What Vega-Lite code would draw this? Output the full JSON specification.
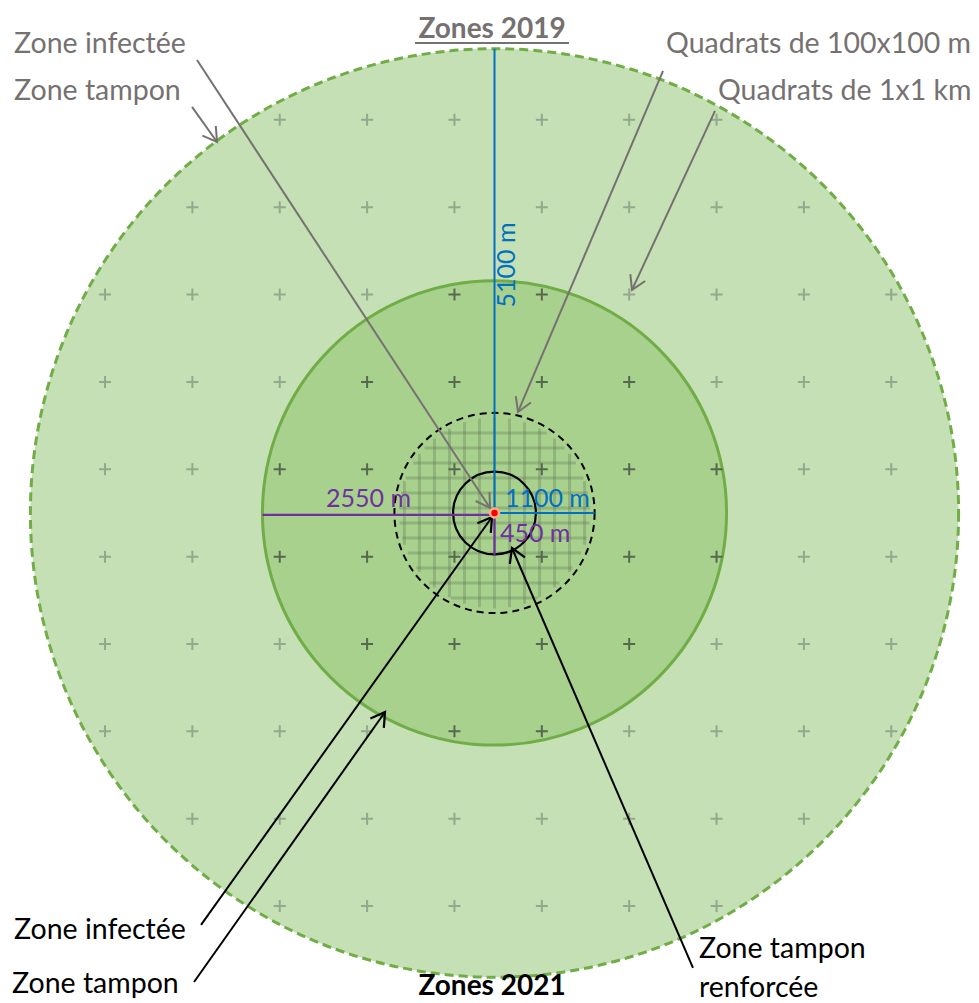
{
  "$schema": "https://vega.github.io/schema/vega-lite/v6.json",
  "width": 979,
  "height": 1003,
  "autosize": "none",
  "padding": 0,
  "background": "white",
  "config": {"view": {"stroke": null}},
  "encoding": {
    "x": {"field": "x", "type": "quantitative", "scale": {"domain": [-5434, 5324], "nice": false, "zero": false}, "axis": null},
    "y": {"field": "y", "type": "quantitative", "scale": {"domain": [-5385, 5637], "nice": false, "zero": false}, "axis": null}
  },
  "layer": [
    {
      "data": {"values": [{"x": 0, "y": 0, "r": 5100}]},
      "mark": {"type": "point", "shape": "circle", "filled": true, "fill": "#c5e0b4", "stroke": "#70ad47", "strokeWidth": 3, "strokeDash": [9, 5], "opacity": 1, "fillOpacity": 1},
      "encoding": {"size": {"field": "r", "type": "quantitative", "scale": {"type": "pow", "exponent": 2, "domain": [0, 5100], "range": [0, 861555]}, "legend": null}}
    },
    {
      "data": {"values": [{"x": 0, "y": 0, "r": 2550}]},
      "mark": {"type": "point", "shape": "circle", "filled": true, "fill": "#a9d18e", "stroke": "#70ad47", "strokeWidth": 3, "opacity": 1, "fillOpacity": 1},
      "encoding": {"size": {"field": "r", "type": "quantitative", "scale": {"type": "pow", "exponent": 2, "domain": [0, 5100], "range": [0, 861555]}, "legend": null}}
    },
    {
      "data": {"values": [
        {"x": -2360, "y": 4320}, {"x": -1400, "y": 4320}, {"x": -440, "y": 4320}, {"x": 520, "y": 4320}, {"x": 1480, "y": 4320}, {"x": 2440, "y": 4320},
        {"x": -2360, "y": -4320}, {"x": -1400, "y": -4320}, {"x": -440, "y": -4320}, {"x": 520, "y": -4320}, {"x": 1480, "y": -4320}, {"x": 2440, "y": -4320},
        {"x": -3320, "y": 3360}, {"x": -2360, "y": 3360}, {"x": -1400, "y": 3360}, {"x": -440, "y": 3360}, {"x": 520, "y": 3360}, {"x": 1480, "y": 3360}, {"x": 2440, "y": 3360}, {"x": 3400, "y": 3360},
        {"x": -3320, "y": -3360}, {"x": -2360, "y": -3360}, {"x": -1400, "y": -3360}, {"x": -440, "y": -3360}, {"x": 520, "y": -3360}, {"x": 1480, "y": -3360}, {"x": 2440, "y": -3360}, {"x": 3400, "y": -3360},
        {"x": -4280, "y": 2400}, {"x": -3320, "y": 2400}, {"x": -2360, "y": 2400}, {"x": -1400, "y": 2400}, {"x": 1480, "y": 2400}, {"x": 2440, "y": 2400}, {"x": 3400, "y": 2400}, {"x": 4360, "y": 2400},
        {"x": -4280, "y": -2400}, {"x": -3320, "y": -2400}, {"x": -2360, "y": -2400}, {"x": -1400, "y": -2400}, {"x": 1480, "y": -2400}, {"x": 2440, "y": -2400}, {"x": 3400, "y": -2400}, {"x": 4360, "y": -2400},
        {"x": -4280, "y": 1440}, {"x": -3320, "y": 1440}, {"x": -2360, "y": 1440}, {"x": 2440, "y": 1440}, {"x": 3400, "y": 1440}, {"x": 4360, "y": 1440},
        {"x": -4280, "y": -1440}, {"x": -3320, "y": -1440}, {"x": -2360, "y": -1440}, {"x": 2440, "y": -1440}, {"x": 3400, "y": -1440}, {"x": 4360, "y": -1440},
        {"x": -4280, "y": 480}, {"x": -3320, "y": 480}, {"x": 3400, "y": 480}, {"x": 4360, "y": 480},
        {"x": -4280, "y": -480}, {"x": -3320, "y": -480}, {"x": 3400, "y": -480}, {"x": 4360, "y": -480}
      ]},
      "mark": {"type": "point", "shape": "M -1 0 L 1 0 M 0 -1 L 0 1", "filled": false, "color": "#93a88c", "strokeWidth": 2, "size": 144, "opacity": 1}
    },
    {
      "data": {"values": [
        {"x": -440, "y": 2400}, {"x": 520, "y": 2400}, {"x": -440, "y": -2400}, {"x": 520, "y": -2400},
        {"x": -1400, "y": 1440}, {"x": -440, "y": 1440}, {"x": 520, "y": 1440}, {"x": 1480, "y": 1440},
        {"x": -1400, "y": -1440}, {"x": -440, "y": -1440}, {"x": 520, "y": -1440}, {"x": 1480, "y": -1440},
        {"x": -2360, "y": 480}, {"x": -1400, "y": 480}, {"x": -440, "y": 480}, {"x": 520, "y": 480}, {"x": 1480, "y": 480}, {"x": 2440, "y": 480},
        {"x": -2360, "y": -480}, {"x": -1400, "y": -480}, {"x": -440, "y": -480}, {"x": 520, "y": -480}, {"x": 1480, "y": -480}, {"x": 2440, "y": -480}
      ]},
      "mark": {"type": "point", "shape": "M -1 0 L 1 0 M 0 -1 L 0 1", "filled": false, "color": "#56684e", "strokeWidth": 2, "size": 144, "opacity": 1}
    },
    {
      "data": {"values": [
        {"x": 0, "y": -1050, "x2": 0, "y2": 1050},
        {"x": 165, "y": -1037, "x2": 165, "y2": 1037}, {"x": -165, "y": -1037, "x2": -165, "y2": 1037},
        {"x": 330, "y": -997, "x2": 330, "y2": 997}, {"x": -330, "y": -997, "x2": -330, "y2": 997},
        {"x": 495, "y": -926, "x2": 495, "y2": 926}, {"x": -495, "y": -926, "x2": -495, "y2": 926},
        {"x": 660, "y": -817, "x2": 660, "y2": 817}, {"x": -660, "y": -817, "x2": -660, "y2": 817},
        {"x": 825, "y": -650, "x2": 825, "y2": 650}, {"x": -825, "y": -650, "x2": -825, "y2": 650},
        {"x": 990, "y": -350, "x2": 990, "y2": 350}, {"x": -990, "y": -350, "x2": -990, "y2": 350},
        {"x": -478, "y": -935, "x2": 478, "y2": -935},
        {"x": -714, "y": -770, "x2": 714, "y2": -770},
        {"x": -858, "y": -605, "x2": 858, "y2": -605},
        {"x": -953, "y": -440, "x2": 953, "y2": -440},
        {"x": -1013, "y": -275, "x2": 1013, "y2": -275},
        {"x": -1044, "y": -110, "x2": 1044, "y2": -110},
        {"x": -1049, "y": 55, "x2": 1049, "y2": 55},
        {"x": -1027, "y": 220, "x2": 1027, "y2": 220},
        {"x": -977, "y": 385, "x2": 977, "y2": 385},
        {"x": -894, "y": 550, "x2": 894, "y2": 550},
        {"x": -769, "y": 715, "x2": 769, "y2": 715},
        {"x": -573, "y": 880, "x2": 573, "y2": 880}
      ]},
      "mark": {"type": "rule", "color": "#5f7456", "strokeWidth": 3, "opacity": 0.32},
      "encoding": {"x2": {"field": "x2"}, "y2": {"field": "y2"}}
    },
    {
      "data": {"values": [{"x": 0, "y": 0, "r": 1100}]},
      "mark": {"type": "point", "shape": "circle", "filled": false, "stroke": "#000000", "strokeWidth": 2, "strokeDash": [7, 5], "opacity": 1},
      "encoding": {"size": {"field": "r", "type": "quantitative", "scale": {"type": "pow", "exponent": 2, "domain": [0, 5100], "range": [0, 861555]}, "legend": null}}
    },
    {
      "data": {"values": [{"x": 0, "y": 0, "r": 455}]},
      "mark": {"type": "point", "shape": "circle", "filled": false, "stroke": "#000000", "strokeWidth": 2.2, "opacity": 1},
      "encoding": {"size": {"field": "r", "type": "quantitative", "scale": {"type": "pow", "exponent": 2, "domain": [0, 5100], "range": [0, 861555]}, "legend": null}}
    },
    {
      "data": {"values": [{"x": 0, "y": 0, "x2": 0, "y2": 5100}, {"x": 0, "y": 0, "x2": 1100, "y2": 0}]},
      "mark": {"type": "rule", "color": "#0070c0", "strokeWidth": 2},
      "encoding": {"x2": {"field": "x2"}, "y2": {"field": "y2"}}
    },
    {
      "data": {"values": [{"x": -2550, "y": -20, "x2": 0, "y2": -20}, {"x": 0, "y": -20, "x2": 0, "y2": -460}]},
      "mark": {"type": "rule", "color": "#7030a0", "strokeWidth": 2.2},
      "encoding": {"x2": {"field": "x2"}, "y2": {"field": "y2"}}
    },
    {
      "data": {"values": [
        {"x": -3269, "y": 4978, "x2": -49, "y2": 55, "angle": 146.8},
        {"x": -3324, "y": 4462, "x2": -3049, "y2": 4077, "angle": 144.5},
        {"x": 1852, "y": 4857, "x2": 258, "y2": 1110, "angle": 203.0},
        {"x": 2423, "y": 4418, "x2": 1511, "y2": 2451, "angle": 204.9}
      ]},
      "layer": [
        {"mark": {"type": "rule", "color": "#767171", "strokeWidth": 2}, "encoding": {"x2": {"field": "x2"}, "y2": {"field": "y2"}}},
        {"mark": {"type": "point", "shape": "M -0.6 1 L 0 0 L 0.6 1", "filled": false, "color": "#767171", "strokeWidth": 2, "size": 750, "opacity": 1},
         "encoding": {"x": {"field": "x2", "type": "quantitative"}, "y": {"field": "y2", "type": "quantitative"}, "angle": {"field": "angle", "type": "quantitative", "scale": null}}}
      ]
    },
    {
      "data": {"values": [
        {"x": -3225, "y": -4527, "x2": -27, "y2": -44, "angle": 35.5},
        {"x": -3302, "y": -5154, "x2": -1203, "y2": -2187, "angle": 35.3},
        {"x": 2181, "y": -5000, "x2": 192, "y2": -385, "angle": 336.7}
      ]},
      "layer": [
        {"mark": {"type": "rule", "color": "#000000", "strokeWidth": 2}, "encoding": {"x2": {"field": "x2"}, "y2": {"field": "y2"}}},
        {"mark": {"type": "point", "shape": "M -0.6 1 L 0 0 L 0.6 1", "filled": false, "color": "#000000", "strokeWidth": 2.2, "size": 750, "opacity": 1},
         "encoding": {"x": {"field": "x2", "type": "quantitative"}, "y": {"field": "y2", "type": "quantitative"}, "angle": {"field": "angle", "type": "quantitative", "scale": null}}}
      ]
    },
    {
      "data": {"values": [{"x": 0, "y": 0}]},
      "mark": {"type": "point", "shape": "circle", "filled": true, "fill": "#ff0000", "stroke": "#f4b183", "strokeWidth": 2.5, "size": 80, "opacity": 1}
    },
    {
      "data": {"values": [{"x": -874, "y": 5165, "x2": 819, "y2": 5165}]},
      "mark": {"type": "rule", "color": "#767171", "strokeWidth": 2},
      "encoding": {"x2": {"field": "x2"}, "y2": {"field": "y2"}}
    },
    {
      "data": {"values": [
        {"x": -5280, "y": 5055, "label": "Zone infectée"},
        {"x": -5280, "y": 4538, "label": "Zone tampon"},
        {"x": 1885, "y": 5055, "label": "Quadrats de 100x100 m"},
        {"x": 2456, "y": 4538, "label": "Quadrats de 1x1 km"}
      ]},
      "mark": {"type": "text", "align": "left", "baseline": "alphabetic", "font": "Lato", "fontSize": 28.5, "color": "#767171"},
      "encoding": {"text": {"field": "label", "type": "nominal"}}
    },
    {
      "data": {"values": [{"x": -27, "y": 5220, "label": "Zones 2019"}]},
      "mark": {"type": "text", "align": "center", "baseline": "alphabetic", "font": "Lato", "fontSize": 28, "fontWeight": "bold", "color": "#767171"},
      "encoding": {"text": {"field": "label", "type": "nominal"}}
    },
    {
      "data": {"values": [
        {"x": -5280, "y": -4681, "label": "Zone infectée"},
        {"x": -5302, "y": -5275, "label": "Zone tampon"},
        {"x": 2247, "y": -4890, "label": "Zone tampon"},
        {"x": 2247, "y": -5319, "label": "renforcée"}
      ]},
      "mark": {"type": "text", "align": "left", "baseline": "alphabetic", "font": "Lato", "fontSize": 28.5, "color": "#000000"},
      "encoding": {"text": {"field": "label", "type": "nominal"}}
    },
    {
      "data": {"values": [{"x": -27, "y": -5297, "label": "Zones 2021"}]},
      "mark": {"type": "text", "align": "center", "baseline": "alphabetic", "font": "Lato", "fontSize": 28, "fontWeight": "bold", "color": "#000000"},
      "encoding": {"text": {"field": "label", "type": "nominal"}}
    },
    {
      "data": {"values": [{"x": 115, "y": 66, "label": "1100 m"}]},
      "mark": {"type": "text", "align": "left", "baseline": "alphabetic", "font": "Lato", "fontSize": 25, "color": "#0070c0"},
      "encoding": {"text": {"field": "label", "type": "nominal"}}
    },
    {
      "data": {"values": [{"x": 137, "y": 2725, "label": "5100 m"}]},
      "mark": {"type": "text", "align": "center", "baseline": "middle", "angle": 270, "font": "Lato", "fontSize": 25, "color": "#0070c0"},
      "encoding": {"text": {"field": "label", "type": "nominal"}}
    },
    {
      "data": {"values": [{"x": -918, "y": 66, "label": "2550 m"}]},
      "mark": {"type": "text", "align": "right", "baseline": "alphabetic", "font": "Lato", "fontSize": 25, "color": "#7030a0"},
      "encoding": {"text": {"field": "label", "type": "nominal"}}
    },
    {
      "data": {"values": [{"x": 60, "y": -319, "label": "450 m"}]},
      "mark": {"type": "text", "align": "left", "baseline": "alphabetic", "font": "Lato", "fontSize": 25, "color": "#7030a0"},
      "encoding": {"text": {"field": "label", "type": "nominal"}}
    }
  ]
}
